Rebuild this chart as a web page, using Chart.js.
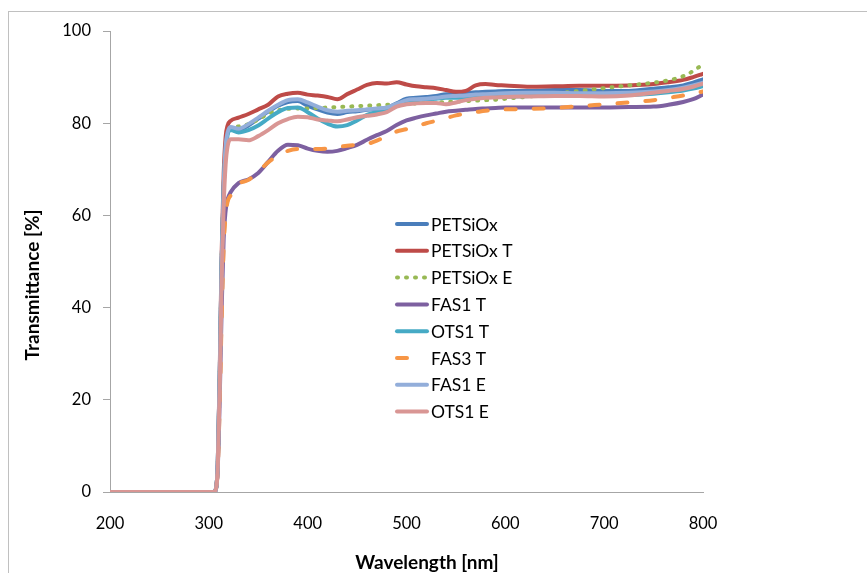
<!DOCTYPE html>
<html>
<head>
<meta charset="utf-8">
<script src="https://cdn.jsdelivr.net/npm/chart.js@4.4.0/dist/chart.umd.min.js"></script>
<style>
  html, body { margin: 0; padding: 0; background: #fff; }
  #wrap { width: 867px; height: 573px; position: relative; }
</style>
</head>
<body>
<div id="wrap"><canvas id="myChart" width="867" height="573"></canvas></div>
<script>
// wavelength grid shared by every series [nm]
const wavelengths = [200, 305, 307, 309, 311, 313, 315, 317, 319, 322, 330, 340, 350, 360, 370, 380, 390, 400,
  410, 420, 430, 440, 450, 460, 470, 480, 490, 500, 510, 520, 530, 540, 550, 560, 570, 580, 590, 600,
  625, 650, 675, 700, 725, 750, 765, 780, 790, 800];

const petsiox = [0, 0, 0.5, 6, 25, 50, 66, 74.5, 78, 79, 78.6, 79.5, 81, 82.5, 83.8, 84.6, 84.8, 83.8,
  83, 82.3, 82, 82.4, 82.6, 82.9, 83.1, 83.3, 84.3, 85.3, 85.5, 85.7, 85.9, 86.3, 86.3, 86.5, 86.7, 86.8, 86.9, 87,
  87, 87.2, 87.2, 87, 87, 87.5, 87.8, 88.2, 88.8, 89.5];
const petsioxT = [0, 0, 0.5, 6, 26, 52, 69, 77, 79.5, 80.5, 81.2, 82, 83, 84, 85.8, 86.4, 86.6, 86.2,
  86, 85.7, 85.2, 86.3, 87.3, 88.3, 88.7, 88.6, 88.9, 88.4, 88, 87.8, 87.6, 87.2, 86.8, 87, 88.2, 88.5, 88.3, 88.2,
  87.9, 88, 88.1, 88.1, 88.2, 88.5, 88.9, 89.4, 90, 90.7];
const petsioxE = [0, 0, 0.5, 6, 25, 50, 66, 74, 77.5, 78.8, 79.3, 79.8, 80.8, 82, 82.8, 83.1, 83.2, 83.2,
  83.3, 83.4, 83.5, 83.6, 83.7, 83.8, 83.9, 84, 84.1, 84.2, 84.3, 84.4, 84.5, 84.6, 84.7, 84.8, 84.9, 85, 85.1, 85.3,
  85.8, 86.4, 87, 87.6, 88.2, 88.8, 89.3, 90.2, 91.3, 92.8];
const fas1T = [0, 0, 0.5, 5, 20, 40, 55, 61, 63.5, 65, 67, 67.8, 69.2, 71.6, 74, 75.3, 75.2, 74.5,
  74, 73.8, 74, 74.6, 75.3, 76.4, 77.4, 78.3, 79.6, 80.6, 81.2, 81.7, 82.1, 82.5, 82.7, 82.9, 83.1, 83.2, 83.3, 83.4,
  83.4, 83.4, 83.4, 83.4, 83.5, 83.6, 84, 84.6, 85.2, 86.2];
const ots1T = [0, 0, 0.5, 6, 25, 50, 66, 74, 77.5, 78.5, 78, 78.5, 79.5, 81, 82.4, 83.3, 83.4, 82.4,
  81, 79.9, 79.3, 79.6, 80.6, 81.8, 82.4, 82.8, 83.8, 84.8, 85, 85.2, 85.3, 85.5, 85.5, 85.6, 85.6, 85.7, 85.7, 85.8,
  85.9, 86, 86, 86, 86.1, 86.4, 86.7, 87.1, 87.5, 88];
const fas3T = [0, 0, 0.5, 5, 19, 38, 53, 60, 63, 64.3, 66.8, 67.7, 69.5, 71.5, 73, 74, 74.4, 74.4,
  74.4, 74.5, 74.8, 75.1, 75.3, 75.5, 76.2, 77.3, 78.2, 78.7, 79.3, 80, 80.5, 81.1, 81.7, 82.1, 82.4, 82.7, 82.9, 83,
  83.1, 83.3, 83.7, 84.1, 84.5, 85, 85.5, 86, 86.4, 86.9];
const fas1E = [0, 0, 0.5, 6, 25, 50, 66, 75, 78, 79.2, 78.8, 79.8, 81.2, 82.7, 84, 85, 85.2, 84.5,
  83.6, 82.8, 82.5, 82.7, 82.8, 83, 83.2, 83.4, 84.2, 85, 85.2, 85.3, 85.5, 85.8, 85.9, 86, 86.2, 86.3, 86.4, 86.5,
  86.6, 86.6, 86.5, 86.5, 86.6, 86.9, 87.2, 87.7, 88.2, 88.8];
const ots1E = [0, 0, 0.5, 5, 22, 46, 62, 71, 75, 76.5, 76.5, 76.3, 77.2, 78.5, 80, 80.9, 81.4, 81.3,
  80.8, 80.6, 80.4, 80.8, 81.3, 81.6, 81.9, 82.4, 83.6, 84.1, 84.3, 84.4, 84.4, 84.1, 84.5, 85, 85.3, 85.5, 85.6, 85.7,
  85.8, 85.9, 85.9, 85.8, 86, 86.6, 87, 87.4, 87.9, 88.6];

const seriesNames = ["PETSiOx", "PETSiOx T", "PETSiOx E", "FAS1 T", "OTS1 T", "FAS3 T", "FAS1 E", "OTS1 E"];
const seriesValues = [petsiox, petsioxT, petsioxE, fas1T, ots1T, fas3T, fas1E, ots1E];
const seriesColors = ["#4A7EBB", "#BE4B48", "#98B954", "#7D60A0", "#46AAC5", "#F79646", "#93AEDA", "#D99694"];
const seriesDash = [[], [], [1, 8], [], [], [10, 18], [], []];

const xTicks = [200, 300, 400, 500, 600, 700, 800];
const yTicks = [0, 20, 40, 60, 80, 100];

const FONT = "Lato, 'Open Sans', sans-serif";
const AXIS_GREY = "#a6a6a6";

let datasets = seriesNames.map((name, i) => ({
    label: name,
    data: wavelengths.map((w, j) => ({ x: w, y: seriesValues[i][j] })),
    borderColor: seriesColors[i],
    backgroundColor: seriesColors[i],
    borderWidth: 4,
    borderDash: seriesDash[i],
    borderCapStyle: 'round',
    borderJoinStyle: 'round',
    pointRadius: 0,
    cubicInterpolationMode: 'monotone',
    order: seriesNames.length - i
}));

// frame, axis titles and the legend that sits inside the plot
const decorations = {
    id: 'decorations',
    beforeDraw(chart) {
        let c = chart.ctx;
        c.save();
        c.strokeStyle = "#c0c0c0";
        c.lineWidth = 1;
        c.strokeRect(8.5, 11.5, 900, 600);
        c.restore();
    },
    afterDatasetsDraw(chart) {
        let c = chart.ctx;
        c.save();
        c.fillStyle = "#000";
        c.font = "bold 19px " + FONT;
        c.textAlign = "center";
        c.textBaseline = "middle";
        c.fillText("Wavelength [nm]", 427, 563);

        c.translate(33, 285);
        c.rotate(-Math.PI / 2);
        c.fillText("Transmittance [%]", 0, 0);
        c.restore();

        c.save();
        c.font = "17.5px " + FONT;
        c.textAlign = "left";
        c.textBaseline = "middle";
        for (let i = 0; i < seriesNames.length; i++) {
            let y = 224 + i * 26.8;
            c.strokeStyle = seriesColors[i];
            c.lineWidth = 4;
            c.lineCap = 'round';
            c.setLineDash(seriesDash[i]);
            c.beginPath();
            if (i == 5) {
                c.moveTo(397, y);
                c.lineTo(407, y);
            } else {
                c.moveTo(397, y);
                c.lineTo(427, y);
            }
            c.stroke();
            c.setLineDash([]);
            c.fillStyle = "#000";
            c.fillText(seriesNames[i], 431, y + 1);
        }
        c.restore();
    }
};

let ctx = document.getElementById("myChart");
let myChart = new Chart(ctx, {
    type: 'line',
    data: { datasets: datasets },
    plugins: [decorations],
    options: {
        responsive: false,
        animation: false,
        layout: { padding: { left: 0, top: 31, right: 164, bottom: 0 } },
        scales: {
            x: {
                type: 'linear',
                min: 200,
                max: 800,
                afterFit: (s) => { s.height = 81; },
                afterBuildTicks: (s) => { s.ticks = xTicks.map(v => ({ value: v })); },
                grid: { drawOnChartArea: false, drawTicks: false },
                border: { color: AXIS_GREY, width: 1 },
                ticks: { padding: 22, color: "#000", font: { family: FONT, size: 16.5 } }
            },
            y: {
                min: 0,
                max: 100,
                afterFit: (s) => { s.width = 110; },
                afterBuildTicks: (s) => { s.ticks = yTicks.map(v => ({ value: v })); },
                grid: { drawOnChartArea: false, drawTicks: true, tickLength: 7, tickColor: AXIS_GREY },
                border: { color: AXIS_GREY, width: 1 },
                ticks: { padding: 12, color: "#000", font: { family: FONT, size: 16.5 } }
            }
        },
        plugins: {
            legend: { display: false },
            tooltip: { enabled: false }
        }
    }
});
</script>
</body>
</html>
